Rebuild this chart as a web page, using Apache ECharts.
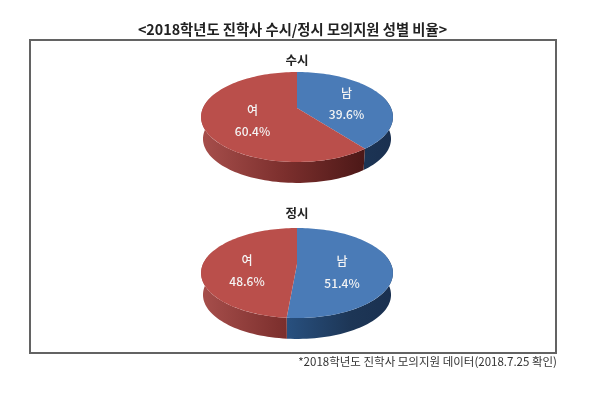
<!DOCTYPE html>
<html>
<head>
<meta charset="utf-8">
<style>
html,body{margin:0;padding:0;background:#fff}
#chart{width:600px;height:404px;filter:blur(0.45px)}
</style>
<script src="https://cdn.jsdelivr.net/npm/echarts@6/dist/echarts.min.js"></script>
</head>
<body>
<div id="chart"></div>
<script>
var categories = ['남', '여'];
var susiValues = [39.6, 60.4];
var jeongsiValues = [51.4, 48.6];
var pieTitles = ['수시', '정시'];
var chartTitle = '<2018학년도 진학사 수시/정시 모의지원 성별 비율>';
var footnote = '*2018학년도 진학사 모의지원 데이터(2018.7.25 확인)';

var font = '"Noto Sans CJK KR", sans-serif';
var R = 94, S = 43.2, K = 0.2, DEPTH = 22, NARROW = 0.98;
var topColors = ['#4a7bb7', '#ba4f4b'];
var FRONT_START = 70, FRONT_END = 290;

function project(deg, cx, cy, scale, dy) {
  var t = deg * Math.PI / 180;
  var u = Math.sin(t), v = -Math.cos(t);
  var d = 1 - K * v;
  return [cx + scale * R * u / d, cy + dy + scale * S * v / d];
}
function arc(a0, a1, cx, cy, scale, dy) {
  var pts = [], n = Math.max(2, Math.ceil((a1 - a0) / 2));
  for (var i = 0; i <= n; i++) pts.push(project(a0 + (a1 - a0) * i / n, cx, cy, scale, dy));
  return pts;
}
function wallFill(idx) {
  return idx === 0
    ? {type:'linear', x:287, y:0, x2:393, y2:0, global:true, colorStops:[
        {offset:0,color:'#28507f'},{offset:0.6,color:'#1d3656'},{offset:1,color:'#1a3050'}]}
    : {type:'linear', x:203, y:0, x2:365, y2:0, global:true, colorStops:[
        {offset:0,color:'#a64e4b'},{offset:0.5,color:'#7c2f2d'},{offset:1,color:'#4c1817'}]};
}
function pieSeries(values, cx, cy, labels) {
  return {
    type: 'custom',
    coordinateSystem: 'none',
    silent: true,
    data: categories.map(function (c, i) { return [i, values[i]]; }),
    renderItem: function (params, api) {
      var i = params.dataIndex, total = 0, before = 0;
      values.forEach(function (v, j) { total += v; if (j < i) before += v; });
      var a0 = before / total * 360, a1 = (before + api.value(1)) / total * 360;
      var children = [];
      var w0 = Math.max(a0, FRONT_START), w1 = Math.min(a1, FRONT_END);
      if (w1 > w0) {
        var upper = arc(w0, w1, cx, cy, 1, 0);
        var lower = arc(w0, w1, cx, cy, NARROW, DEPTH).reverse();
        children.push({type:'polygon', z2:1, shape:{points:upper.concat(lower)}, style:{fill:wallFill(i)}});
      }
      children.push({type:'polygon', z2:10,
        shape:{points:[[cx, cy]].concat(arc(a0, a1, cx, cy, 1, 0))},
        style:{fill:topColors[i]}});
      children.push({type:'text', z2:20, x:labels[i][0], y:labels[i][1], style:{
        text: categories[i] + '\n' + api.value(1).toFixed(1) + '%',
        fill:'#f4f4f4', font:'500 12px ' + font, lineHeight:21.5, align:'center', verticalAlign:'middle'}});
      return {type:'group', children:children};
    }
  };
}

var chart = echarts.init(document.getElementById('chart'), null, {renderer:'canvas'});
chart.setOption({
  animation:false,
  backgroundColor:'#fff',
  title:[
    {text:chartTitle, left:287.5, top:16, textAlign:'center',
      textStyle:{fontFamily:font, fontSize:14.3, fontWeight:'bold', color:'#222', lineHeight:18}},
    {text:pieTitles[0], left:292, top:46, textAlign:'center',
      textStyle:{fontFamily:font, fontSize:12.5, fontWeight:'bold', color:'#222', lineHeight:18}},
    {text:pieTitles[1], left:292, top:199, textAlign:'center',
      textStyle:{fontFamily:font, fontSize:12.5, fontWeight:'bold', color:'#222', lineHeight:18}},
    {text:footnote, left:552, top:349, textAlign:'right',
      textStyle:{fontFamily:font, fontSize:11.5, fontWeight:'normal', color:'#333', lineHeight:16}}
  ],
  graphic:[{type:'rect', z:-1, shape:{x:30, y:40, width:526, height:313},
    style:{fill:'#fff', stroke:'#636363', lineWidth:2}}],
  series:[
    pieSeries(susiValues, 297, 108, [[346.5,104],[252.5,121]]),
    pieSeries(jeongsiValues, 297, 264, [[342,272.5],[247,271]])
  ]
});
</script>
</body>
</html>
